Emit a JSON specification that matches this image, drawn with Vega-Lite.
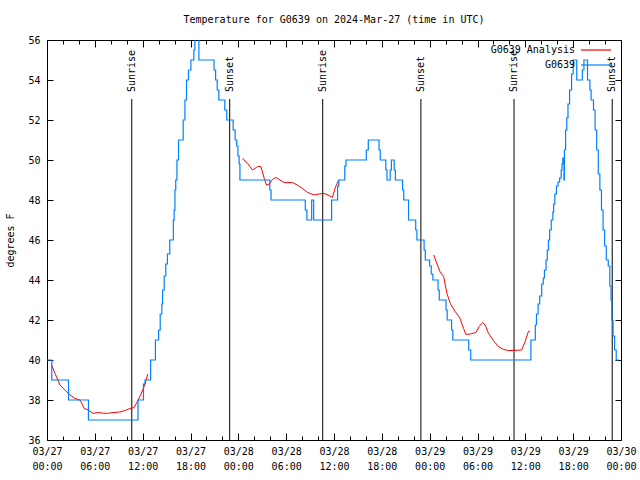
{
  "$schema": "https://vega.github.io/schema/vega-lite/v6.json",
  "width": 574,
  "height": 400,
  "autosize": {"type": "none"},
  "padding": {"left": 47, "top": 40, "right": 19, "bottom": 40},
  "background": "white",
  "title": {"text": "Temperature for G0639 on 2024-Mar-27 (time in UTC)", "font": "DejaVu Sans Mono", "fontSize": 10, "fontWeight": "normal", "color": "black", "anchor": "middle", "offset": 10},
  "datasets": {
    "blue": [
      {"t": "2024-03-27T00:00:00Z", "temp": 40, "series": "G0639"},
      {"t": "2024-03-27T00:36:00Z", "temp": 39, "series": "G0639"},
      {"t": "2024-03-27T02:42:00Z", "temp": 38, "series": "G0639"},
      {"t": "2024-03-27T05:12:00Z", "temp": 37, "series": "G0639"},
      {"t": "2024-03-27T11:25:00Z", "temp": 38, "series": "G0639"},
      {"t": "2024-03-27T12:06:00Z", "temp": 38.8, "series": "G0639"},
      {"t": "2024-03-27T12:18:00Z", "temp": 39, "series": "G0639"},
      {"t": "2024-03-27T13:00:00Z", "temp": 40, "series": "G0639"},
      {"t": "2024-03-27T13:36:00Z", "temp": 41, "series": "G0639"},
      {"t": "2024-03-27T14:00:00Z", "temp": 41.5, "series": "G0639"},
      {"t": "2024-03-27T14:12:00Z", "temp": 42.3, "series": "G0639"},
      {"t": "2024-03-27T14:24:00Z", "temp": 42.8, "series": "G0639"},
      {"t": "2024-03-27T14:30:00Z", "temp": 43.5, "series": "G0639"},
      {"t": "2024-03-27T14:42:00Z", "temp": 44.2, "series": "G0639"},
      {"t": "2024-03-27T14:54:00Z", "temp": 44.8, "series": "G0639"},
      {"t": "2024-03-27T15:06:00Z", "temp": 45.3, "series": "G0639"},
      {"t": "2024-03-27T15:24:00Z", "temp": 46, "series": "G0639"},
      {"t": "2024-03-27T15:51:00Z", "temp": 47, "series": "G0639"},
      {"t": "2024-03-27T15:57:00Z", "temp": 47.5, "series": "G0639"},
      {"t": "2024-03-27T16:03:00Z", "temp": 48.5, "series": "G0639"},
      {"t": "2024-03-27T16:09:00Z", "temp": 49, "series": "G0639"},
      {"t": "2024-03-27T16:18:00Z", "temp": 50, "series": "G0639"},
      {"t": "2024-03-27T16:30:00Z", "temp": 51, "series": "G0639"},
      {"t": "2024-03-27T17:05:00Z", "temp": 52, "series": "G0639"},
      {"t": "2024-03-27T17:18:00Z", "temp": 53, "series": "G0639"},
      {"t": "2024-03-27T17:30:00Z", "temp": 54, "series": "G0639"},
      {"t": "2024-03-27T17:45:00Z", "temp": 54.5, "series": "G0639"},
      {"t": "2024-03-27T18:03:00Z", "temp": 55, "series": "G0639"},
      {"t": "2024-03-27T18:25:00Z", "temp": 55.5, "series": "G0639"},
      {"t": "2024-03-27T18:33:00Z", "temp": 56.5, "series": "G0639"},
      {"t": "2024-03-27T19:03:00Z", "temp": 55, "series": "G0639"},
      {"t": "2024-03-27T20:57:00Z", "temp": 54.5, "series": "G0639"},
      {"t": "2024-03-27T21:09:00Z", "temp": 54, "series": "G0639"},
      {"t": "2024-03-27T21:21:00Z", "temp": 53.5, "series": "G0639"},
      {"t": "2024-03-27T21:33:00Z", "temp": 53, "series": "G0639"},
      {"t": "2024-03-27T22:18:00Z", "temp": 52.5, "series": "G0639"},
      {"t": "2024-03-27T22:33:00Z", "temp": 52, "series": "G0639"},
      {"t": "2024-03-27T23:21:00Z", "temp": 51.5, "series": "G0639"},
      {"t": "2024-03-27T23:36:00Z", "temp": 51, "series": "G0639"},
      {"t": "2024-03-27T23:48:00Z", "temp": 50.7, "series": "G0639"},
      {"t": "2024-03-27T23:57:00Z", "temp": 50.2, "series": "G0639"},
      {"t": "2024-03-28T00:06:00Z", "temp": 49.8, "series": "G0639"},
      {"t": "2024-03-28T00:12:00Z", "temp": 49, "series": "G0639"},
      {"t": "2024-03-28T03:57:00Z", "temp": 48.5, "series": "G0639"},
      {"t": "2024-03-28T04:06:00Z", "temp": 48, "series": "G0639"},
      {"t": "2024-03-28T08:24:00Z", "temp": 47.5, "series": "G0639"},
      {"t": "2024-03-28T08:36:00Z", "temp": 47, "series": "G0639"},
      {"t": "2024-03-28T09:12:00Z", "temp": 48, "series": "G0639"},
      {"t": "2024-03-28T09:27:00Z", "temp": 47, "series": "G0639"},
      {"t": "2024-03-28T11:42:00Z", "temp": 48, "series": "G0639"},
      {"t": "2024-03-28T12:27:00Z", "temp": 48.7, "series": "G0639"},
      {"t": "2024-03-28T12:36:00Z", "temp": 49, "series": "G0639"},
      {"t": "2024-03-28T13:21:00Z", "temp": 49.7, "series": "G0639"},
      {"t": "2024-03-28T13:30:00Z", "temp": 50, "series": "G0639"},
      {"t": "2024-03-28T16:03:00Z", "temp": 50.5, "series": "G0639"},
      {"t": "2024-03-28T16:18:00Z", "temp": 51, "series": "G0639"},
      {"t": "2024-03-28T17:39:00Z", "temp": 50.5, "series": "G0639"},
      {"t": "2024-03-28T17:48:00Z", "temp": 50, "series": "G0639"},
      {"t": "2024-03-28T18:30:00Z", "temp": 49.5, "series": "G0639"},
      {"t": "2024-03-28T18:39:00Z", "temp": 49, "series": "G0639"},
      {"t": "2024-03-28T19:03:00Z", "temp": 49.5, "series": "G0639"},
      {"t": "2024-03-28T19:12:00Z", "temp": 50, "series": "G0639"},
      {"t": "2024-03-28T19:33:00Z", "temp": 49.5, "series": "G0639"},
      {"t": "2024-03-28T19:42:00Z", "temp": 49, "series": "G0639"},
      {"t": "2024-03-28T20:36:00Z", "temp": 48.5, "series": "G0639"},
      {"t": "2024-03-28T20:45:00Z", "temp": 48, "series": "G0639"},
      {"t": "2024-03-28T21:21:00Z", "temp": 47, "series": "G0639"},
      {"t": "2024-03-28T22:15:00Z", "temp": 46.5, "series": "G0639"},
      {"t": "2024-03-28T22:24:00Z", "temp": 46, "series": "G0639"},
      {"t": "2024-03-28T23:18:00Z", "temp": 45.5, "series": "G0639"},
      {"t": "2024-03-28T23:27:00Z", "temp": 45, "series": "G0639"},
      {"t": "2024-03-29T00:00:00Z", "temp": 44.7, "series": "G0639"},
      {"t": "2024-03-29T00:12:00Z", "temp": 44.3, "series": "G0639"},
      {"t": "2024-03-29T00:24:00Z", "temp": 44, "series": "G0639"},
      {"t": "2024-03-29T01:03:00Z", "temp": 43.5, "series": "G0639"},
      {"t": "2024-03-29T01:12:00Z", "temp": 43, "series": "G0639"},
      {"t": "2024-03-29T02:03:00Z", "temp": 42.5, "series": "G0639"},
      {"t": "2024-03-29T02:12:00Z", "temp": 42, "series": "G0639"},
      {"t": "2024-03-29T02:45:00Z", "temp": 41.5, "series": "G0639"},
      {"t": "2024-03-29T02:54:00Z", "temp": 41, "series": "G0639"},
      {"t": "2024-03-29T04:54:00Z", "temp": 40.5, "series": "G0639"},
      {"t": "2024-03-29T05:09:00Z", "temp": 40, "series": "G0639"},
      {"t": "2024-03-29T12:42:00Z", "temp": 41, "series": "G0639"},
      {"t": "2024-03-29T13:15:00Z", "temp": 41.75, "series": "G0639"},
      {"t": "2024-03-29T13:24:00Z", "temp": 42.3, "series": "G0639"},
      {"t": "2024-03-29T13:36:00Z", "temp": 42.8, "series": "G0639"},
      {"t": "2024-03-29T13:48:00Z", "temp": 43.2, "series": "G0639"},
      {"t": "2024-03-29T14:03:00Z", "temp": 43.8, "series": "G0639"},
      {"t": "2024-03-29T14:15:00Z", "temp": 44.1, "series": "G0639"},
      {"t": "2024-03-29T14:24:00Z", "temp": 44.5, "series": "G0639"},
      {"t": "2024-03-29T14:36:00Z", "temp": 45, "series": "G0639"},
      {"t": "2024-03-29T14:45:00Z", "temp": 45.5, "series": "G0639"},
      {"t": "2024-03-29T14:54:00Z", "temp": 46, "series": "G0639"},
      {"t": "2024-03-29T15:03:00Z", "temp": 46.5, "series": "G0639"},
      {"t": "2024-03-29T15:15:00Z", "temp": 47, "series": "G0639"},
      {"t": "2024-03-29T15:27:00Z", "temp": 47.4, "series": "G0639"},
      {"t": "2024-03-29T15:33:00Z", "temp": 47.8, "series": "G0639"},
      {"t": "2024-03-29T15:42:00Z", "temp": 48.3, "series": "G0639"},
      {"t": "2024-03-29T15:54:00Z", "temp": 48.7, "series": "G0639"},
      {"t": "2024-03-29T16:06:00Z", "temp": 48.9, "series": "G0639"},
      {"t": "2024-03-29T16:18:00Z", "temp": 49.1, "series": "G0639"},
      {"t": "2024-03-29T16:30:00Z", "temp": 49.5, "series": "G0639"},
      {"t": "2024-03-29T16:36:00Z", "temp": 49.8, "series": "G0639"},
      {"t": "2024-03-29T16:42:00Z", "temp": 50.1, "series": "G0639"},
      {"t": "2024-03-29T16:51:00Z", "temp": 49, "series": "G0639"},
      {"t": "2024-03-29T16:54:00Z", "temp": 50.5, "series": "G0639"},
      {"t": "2024-03-29T17:03:00Z", "temp": 51.5, "series": "G0639"},
      {"t": "2024-03-29T17:12:00Z", "temp": 52.1, "series": "G0639"},
      {"t": "2024-03-29T17:21:00Z", "temp": 52.8, "series": "G0639"},
      {"t": "2024-03-29T17:33:00Z", "temp": 53.5, "series": "G0639"},
      {"t": "2024-03-29T17:48:00Z", "temp": 54.3, "series": "G0639"},
      {"t": "2024-03-29T18:00:00Z", "temp": 55, "series": "G0639"},
      {"t": "2024-03-29T18:27:00Z", "temp": 54, "series": "G0639"},
      {"t": "2024-03-29T19:09:00Z", "temp": 54.5, "series": "G0639"},
      {"t": "2024-03-29T19:21:00Z", "temp": 55, "series": "G0639"},
      {"t": "2024-03-29T19:48:00Z", "temp": 54, "series": "G0639"},
      {"t": "2024-03-29T20:06:00Z", "temp": 53.5, "series": "G0639"},
      {"t": "2024-03-29T20:15:00Z", "temp": 53, "series": "G0639"},
      {"t": "2024-03-29T20:33:00Z", "temp": 52.5, "series": "G0639"},
      {"t": "2024-03-29T20:45:00Z", "temp": 51.5, "series": "G0639"},
      {"t": "2024-03-29T20:57:00Z", "temp": 50.5, "series": "G0639"},
      {"t": "2024-03-29T21:09:00Z", "temp": 49.3, "series": "G0639"},
      {"t": "2024-03-29T21:21:00Z", "temp": 48.5, "series": "G0639"},
      {"t": "2024-03-29T21:33:00Z", "temp": 47.5, "series": "G0639"},
      {"t": "2024-03-29T21:45:00Z", "temp": 46.5, "series": "G0639"},
      {"t": "2024-03-29T21:57:00Z", "temp": 45.7, "series": "G0639"},
      {"t": "2024-03-29T22:09:00Z", "temp": 45, "series": "G0639"},
      {"t": "2024-03-29T22:24:00Z", "temp": 44.7, "series": "G0639"},
      {"t": "2024-03-29T22:36:00Z", "temp": 43.7, "series": "G0639"},
      {"t": "2024-03-29T22:45:00Z", "temp": 43, "series": "G0639"},
      {"t": "2024-03-29T22:51:00Z", "temp": 42, "series": "G0639"},
      {"t": "2024-03-29T23:00:00Z", "temp": 41.2, "series": "G0639"},
      {"t": "2024-03-29T23:12:00Z", "temp": 40.5, "series": "G0639"},
      {"t": "2024-03-29T23:24:00Z", "temp": 40, "series": "G0639"},
      {"t": "2024-03-29T23:45:00Z", "temp": 40, "series": "G0639"}
    ],
    "red": [
      {"t": "2024-03-27T00:35:00Z", "temp": 39.75, "seg": 1, "series": "G0639 Analysis"},
      {"t": "2024-03-27T01:00:00Z", "temp": 39.33, "seg": 1, "series": "G0639 Analysis"},
      {"t": "2024-03-27T01:38:00Z", "temp": 38.75, "seg": 1, "series": "G0639 Analysis"},
      {"t": "2024-03-27T02:15:00Z", "temp": 38.5, "seg": 1, "series": "G0639 Analysis"},
      {"t": "2024-03-27T02:53:00Z", "temp": 38.25, "seg": 1, "series": "G0639 Analysis"},
      {"t": "2024-03-27T03:30:00Z", "temp": 38.08, "seg": 1, "series": "G0639 Analysis"},
      {"t": "2024-03-27T04:08:00Z", "temp": 38.0, "seg": 1, "series": "G0639 Analysis"},
      {"t": "2024-03-27T04:40:00Z", "temp": 37.58, "seg": 1, "series": "G0639 Analysis"},
      {"t": "2024-03-27T05:10:00Z", "temp": 37.5, "seg": 1, "series": "G0639 Analysis"},
      {"t": "2024-03-27T05:47:00Z", "temp": 37.33, "seg": 1, "series": "G0639 Analysis"},
      {"t": "2024-03-27T06:24:00Z", "temp": 37.37, "seg": 1, "series": "G0639 Analysis"},
      {"t": "2024-03-27T07:28:00Z", "temp": 37.33, "seg": 1, "series": "G0639 Analysis"},
      {"t": "2024-03-27T08:17:00Z", "temp": 37.37, "seg": 1, "series": "G0639 Analysis"},
      {"t": "2024-03-27T09:08:00Z", "temp": 37.4, "seg": 1, "series": "G0639 Analysis"},
      {"t": "2024-03-27T09:45:00Z", "temp": 37.47, "seg": 1, "series": "G0639 Analysis"},
      {"t": "2024-03-27T10:23:00Z", "temp": 37.57, "seg": 1, "series": "G0639 Analysis"},
      {"t": "2024-03-27T10:54:00Z", "temp": 37.62, "seg": 1, "series": "G0639 Analysis"},
      {"t": "2024-03-27T11:20:00Z", "temp": 37.92, "seg": 1, "series": "G0639 Analysis"},
      {"t": "2024-03-27T11:45:00Z", "temp": 38.25, "seg": 1, "series": "G0639 Analysis"},
      {"t": "2024-03-27T12:15:00Z", "temp": 38.75, "seg": 1, "series": "G0639 Analysis"},
      {"t": "2024-03-27T12:39:00Z", "temp": 39.3, "seg": 1, "series": "G0639 Analysis"},
      {"t": "2024-03-28T00:32:00Z", "temp": 50.08, "seg": 2, "series": "G0639 Analysis"},
      {"t": "2024-03-28T01:09:00Z", "temp": 49.83, "seg": 2, "series": "G0639 Analysis"},
      {"t": "2024-03-28T01:47:00Z", "temp": 49.5, "seg": 2, "series": "G0639 Analysis"},
      {"t": "2024-03-28T02:25:00Z", "temp": 49.67, "seg": 2, "series": "G0639 Analysis"},
      {"t": "2024-03-28T02:50:00Z", "temp": 49.67, "seg": 2, "series": "G0639 Analysis"},
      {"t": "2024-03-28T03:15:00Z", "temp": 49.08, "seg": 2, "series": "G0639 Analysis"},
      {"t": "2024-03-28T03:32:00Z", "temp": 48.75, "seg": 2, "series": "G0639 Analysis"},
      {"t": "2024-03-28T03:53:00Z", "temp": 48.8, "seg": 2, "series": "G0639 Analysis"},
      {"t": "2024-03-28T04:17:00Z", "temp": 49.03, "seg": 2, "series": "G0639 Analysis"},
      {"t": "2024-03-28T04:42:00Z", "temp": 49.13, "seg": 2, "series": "G0639 Analysis"},
      {"t": "2024-03-28T05:06:00Z", "temp": 49.03, "seg": 2, "series": "G0639 Analysis"},
      {"t": "2024-03-28T05:45:00Z", "temp": 48.87, "seg": 2, "series": "G0639 Analysis"},
      {"t": "2024-03-28T06:48:00Z", "temp": 48.87, "seg": 2, "series": "G0639 Analysis"},
      {"t": "2024-03-28T07:24:00Z", "temp": 48.75, "seg": 2, "series": "G0639 Analysis"},
      {"t": "2024-03-28T08:02:00Z", "temp": 48.58, "seg": 2, "series": "G0639 Analysis"},
      {"t": "2024-03-28T08:40:00Z", "temp": 48.38, "seg": 2, "series": "G0639 Analysis"},
      {"t": "2024-03-28T09:30:00Z", "temp": 48.25, "seg": 2, "series": "G0639 Analysis"},
      {"t": "2024-03-28T10:06:00Z", "temp": 48.3, "seg": 2, "series": "G0639 Analysis"},
      {"t": "2024-03-28T10:45:00Z", "temp": 48.33, "seg": 2, "series": "G0639 Analysis"},
      {"t": "2024-03-28T11:24:00Z", "temp": 48.22, "seg": 2, "series": "G0639 Analysis"},
      {"t": "2024-03-28T11:48:00Z", "temp": 48.13, "seg": 2, "series": "G0639 Analysis"},
      {"t": "2024-03-28T12:12:00Z", "temp": 48.67, "seg": 2, "series": "G0639 Analysis"},
      {"t": "2024-03-28T12:36:00Z", "temp": 49.0, "seg": 2, "series": "G0639 Analysis"},
      {"t": "2024-03-29T00:30:00Z", "temp": 45.25, "seg": 3, "series": "G0639 Analysis"},
      {"t": "2024-03-29T00:54:00Z", "temp": 44.83, "seg": 3, "series": "G0639 Analysis"},
      {"t": "2024-03-29T01:18:00Z", "temp": 44.42, "seg": 3, "series": "G0639 Analysis"},
      {"t": "2024-03-29T01:45:00Z", "temp": 44.17, "seg": 3, "series": "G0639 Analysis"},
      {"t": "2024-03-29T02:10:00Z", "temp": 43.33, "seg": 3, "series": "G0639 Analysis"},
      {"t": "2024-03-29T02:35:00Z", "temp": 42.83, "seg": 3, "series": "G0639 Analysis"},
      {"t": "2024-03-29T03:12:00Z", "temp": 42.42, "seg": 3, "series": "G0639 Analysis"},
      {"t": "2024-03-29T03:45:00Z", "temp": 42.13, "seg": 3, "series": "G0639 Analysis"},
      {"t": "2024-03-29T04:15:00Z", "temp": 41.58, "seg": 3, "series": "G0639 Analysis"},
      {"t": "2024-03-29T04:32:00Z", "temp": 41.28, "seg": 3, "series": "G0639 Analysis"},
      {"t": "2024-03-29T05:05:00Z", "temp": 41.3, "seg": 3, "series": "G0639 Analysis"},
      {"t": "2024-03-29T05:48:00Z", "temp": 41.37, "seg": 3, "series": "G0639 Analysis"},
      {"t": "2024-03-29T06:12:00Z", "temp": 41.67, "seg": 3, "series": "G0639 Analysis"},
      {"t": "2024-03-29T06:38:00Z", "temp": 41.87, "seg": 3, "series": "G0639 Analysis"},
      {"t": "2024-03-29T06:58:00Z", "temp": 41.75, "seg": 3, "series": "G0639 Analysis"},
      {"t": "2024-03-29T07:23:00Z", "temp": 41.33, "seg": 3, "series": "G0639 Analysis"},
      {"t": "2024-03-29T08:00:00Z", "temp": 40.97, "seg": 3, "series": "G0639 Analysis"},
      {"t": "2024-03-29T08:38:00Z", "temp": 40.67, "seg": 3, "series": "G0639 Analysis"},
      {"t": "2024-03-29T09:15:00Z", "temp": 40.53, "seg": 3, "series": "G0639 Analysis"},
      {"t": "2024-03-29T09:53:00Z", "temp": 40.47, "seg": 3, "series": "G0639 Analysis"},
      {"t": "2024-03-29T11:32:00Z", "temp": 40.5, "seg": 3, "series": "G0639 Analysis"},
      {"t": "2024-03-29T11:58:00Z", "temp": 40.92, "seg": 3, "series": "G0639 Analysis"},
      {"t": "2024-03-29T12:23:00Z", "temp": 41.42, "seg": 3, "series": "G0639 Analysis"},
      {"t": "2024-03-29T12:35:00Z", "temp": 41.45, "seg": 3, "series": "G0639 Analysis"}
    ],
    "sun": [
      {"t": "2024-03-27T10:38:00Z", "event": "Sunrise"},
      {"t": "2024-03-27T22:55:00Z", "event": "Sunset"},
      {"t": "2024-03-28T10:35:00Z", "event": "Sunrise"},
      {"t": "2024-03-28T22:54:00Z", "event": "Sunset"},
      {"t": "2024-03-29T10:35:00Z", "event": "Sunrise"},
      {"t": "2024-03-29T22:54:00Z", "event": "Sunset"}
    ]
  },
  "layer": [
    {
      "data": {"name": "sun"},
      "mark": {"type": "rule", "color": "black", "strokeWidth": 1},
      "encoding": {
        "x": {"field": "t", "type": "temporal", "scale": {"type": "utc", "domain": [1711497600000, 1711756800000]}, "axis": null},
        "y": {"datum": 53.05, "type": "quantitative", "axis": null},
        "y2": {"datum": 36}
      }
    },
    {
      "data": {"name": "sun"},
      "mark": {"type": "text", "angle": 270, "align": "left", "baseline": "middle", "font": "DejaVu Sans Mono", "fontSize": 10, "color": "black"},
      "encoding": {
        "x": {"field": "t", "type": "temporal", "axis": null},
        "y": {"datum": 53.4, "type": "quantitative", "axis": null},
        "text": {"field": "event"}
      }
    },
    {
      "data": {"name": "red"},
      "mark": {"type": "line", "strokeWidth": 1, "clip": true},
      "encoding": {
        "x": {"field": "t", "type": "temporal", "axis": {"orient": "top", "title": null, "labels": false, "domain": false, "values": [1711497600000, 1711504800000, 1711512000000, 1711519200000, 1711526400000, 1711533600000, 1711540800000, 1711548000000, 1711555200000, 1711562400000, 1711569600000, 1711576800000, 1711584000000, 1711591200000, 1711598400000, 1711605600000, 1711612800000, 1711620000000, 1711627200000, 1711634400000, 1711641600000, 1711648800000, 1711656000000, 1711663200000, 1711670400000, 1711677600000, 1711684800000, 1711692000000, 1711699200000, 1711706400000, 1711713600000, 1711720800000, 1711728000000, 1711735200000, 1711742400000, 1711749600000, 1711756800000], "tickSize": {"condition": {"test": "utchours(datum.value) % 6 == 0", "value": -7}, "value": -4}}},
        "y": {"field": "temp", "type": "quantitative", "axis": {"orient": "right", "title": null, "labels": false, "domain": false, "values": [36, 38, 40, 42, 44, 46, 48, 50, 52, 54, 56], "tickSize": -6}},
        "color": {"field": "series", "type": "nominal", "scale": {"domain": ["G0639 Analysis", "G0639"], "range": ["#ff0000", "#0080ff"]}, "legend": {"title": null}},
        "detail": {"field": "seg"}
      }
    },
    {
      "data": {"name": "blue"},
      "mark": {"type": "line", "strokeWidth": 1.2, "interpolate": "step-after", "clip": true},
      "encoding": {
        "x": {"field": "t", "type": "temporal", "axis": {"orient": "bottom", "title": null, "domain": false, "values": [1711497600000, 1711504800000, 1711512000000, 1711519200000, 1711526400000, 1711533600000, 1711540800000, 1711548000000, 1711555200000, 1711562400000, 1711569600000, 1711576800000, 1711584000000, 1711591200000, 1711598400000, 1711605600000, 1711612800000, 1711620000000, 1711627200000, 1711634400000, 1711641600000, 1711648800000, 1711656000000, 1711663200000, 1711670400000, 1711677600000, 1711684800000, 1711692000000, 1711699200000, 1711706400000, 1711713600000, 1711720800000, 1711728000000, 1711735200000, 1711742400000, 1711749600000, 1711756800000], "tickSize": {"condition": {"test": "utchours(datum.value) % 6 == 0", "value": -7}, "value": -4}, "labelPadding": 13, "labelExpr": "utchours(datum.value) % 6 == 0 ? [utcFormat(datum.value, '%m/%d'), utcFormat(datum.value, '%H:%M')] : ''", "labelFlush": false, "labelOverlap": false, "labelBound": false, "labelLineHeight": 15, "labelBaseline": "top"}},
        "y": {"field": "temp", "type": "quantitative", "scale": {"domain": [36, 56], "nice": false, "zero": false}, "axis": {"orient": "left", "title": "degrees F", "domain": false, "values": [36, 38, 40, 42, 44, 46, 48, 50, 52, 54, 56], "tickSize": -6, "labelPadding": 13, "titlePadding": 12}},
        "color": {"field": "series", "type": "nominal", "legend": {"title": null}}
      }
    }
  ],
  "resolve": {"axis": {"x": "independent", "y": "independent"}},
  "config": {
    "font": "DejaVu Sans Mono",
    "view": {"stroke": "black", "strokeWidth": 1},
    "axis": {"grid": false, "tickColor": "black", "tickWidth": 1, "labelColor": "black", "labelFont": "DejaVu Sans Mono", "labelFontSize": 10, "titleFont": "DejaVu Sans Mono", "titleFontSize": 10, "titleFontWeight": "normal", "titleColor": "black"},
    "legend": {"orient": "none", "legendX": 543, "legendY": 4, "padding": 0, "symbolType": "M-3,0H3", "symbolSize": 100, "symbolStrokeWidth": 1.2, "labelAlign": "right", "labelOffset": -27, "labelFont": "DejaVu Sans Mono", "labelFontSize": 10, "labelColor": "black", "rowPadding": 4}
  }
}
